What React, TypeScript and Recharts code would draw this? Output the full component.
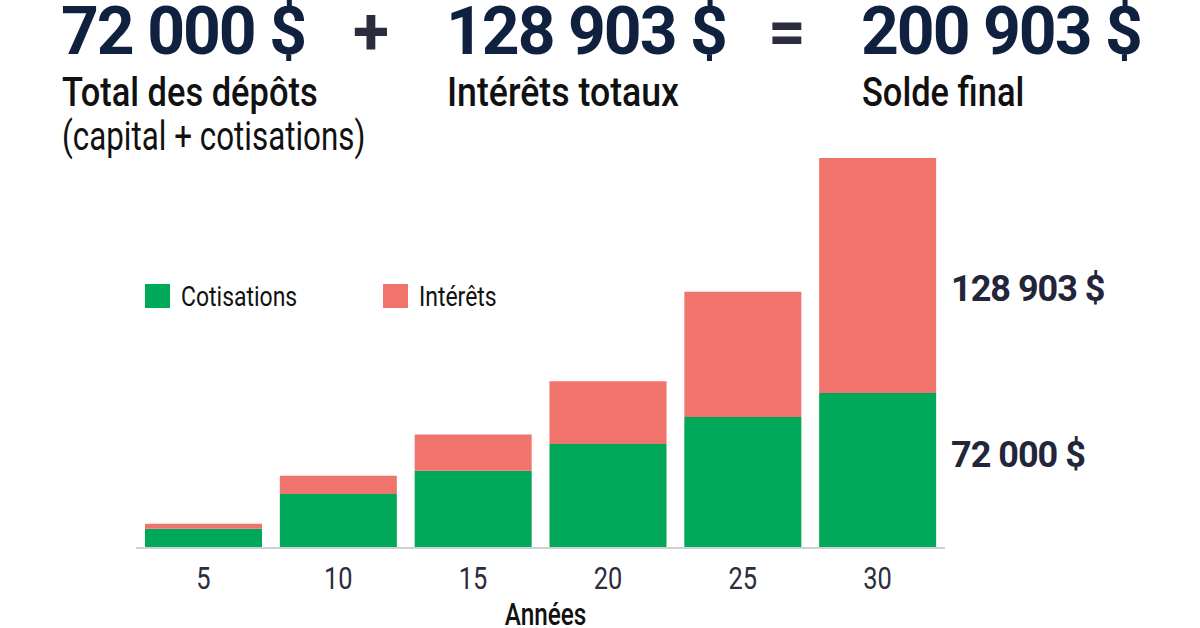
import React from "react";
import { Bar, BarChart, Label, Legend, XAxis, YAxis } from "recharts";

const YEARS = ["5", "10", "15", "20", "25", "30"];
const COTISATIONS = [9900, 27800, 39850, 53600, 67500, 79900];
const INTERETS = [2600, 9470, 18580, 32350, 64550, 121003];

const GREEN = "#00a85a";
const PINK = "#f0736c";
const NAVY = "#10203f";
const INK = "#2b2d3e";

const FONT = 'Roboto, "Noto Sans", sans-serif';

const data = YEARS.map((year, i) => ({
  year,
  cotisations: COTISATIONS[i],
  interets: INTERETS[i],
}));

const BIG = {
  position: "absolute" as const,
  top: 0,
  fontFamily: FONT,
  fontWeight: 700,
  fontSize: 66,
  lineHeight: "64px",
  letterSpacing: -2,
  color: NAVY,
  whiteSpace: "nowrap" as const,
};

const SUB = {
  position: "absolute" as const,
  top: 72,
  fontFamily: FONT,
  fontWeight: 500,
  fontSize: 41,
  lineHeight: "41px",
  color: "#111",
  whiteSpace: "nowrap" as const,
};

const SIDE = {
  position: "absolute" as const,
  left: 951,
  fontFamily: FONT,
  fontWeight: 700,
  fontSize: 36,
  lineHeight: "36px",
  letterSpacing: -1,
  color: "#23263a",
  whiteSpace: "nowrap" as const,
};

// the reference uses a condensed face; squeeze Roboto horizontally instead
function Squeeze({ scale, children }: { scale: number; children: React.ReactNode }) {
  return (
    <span
      style={{
        display: "inline-block",
        transform: `scaleX(${scale})`,
        transformOrigin: "left center",
      }}
    >
      {children}
    </span>
  );
}

function YearTick({ x, y, payload }: any) {
  return (
    <text
      transform={`translate(${x},${y}) scale(0.82,1)`}
      dy="0.71em"
      textAnchor="middle"
      fill={INK}
      fontFamily={FONT}
      fontSize={31}
    >
      {payload.value}
    </text>
  );
}

function AxisTitle({ viewBox }: any) {
  const cx = viewBox.x + viewBox.width / 2 + 5;
  const y = viewBox.y + viewBox.height + 37;
  return (
    <text
      transform={`translate(${cx},${y}) scale(0.76,1)`}
      textAnchor="middle"
      fill="#111"
      fontFamily={FONT}
      fontWeight={500}
      fontSize={32}
    >
      Années
    </text>
  );
}

function LegendContent() {
  const items = [
    { name: "Cotisations", color: GREEN },
    { name: "Intérêts", color: PINK },
  ];
  return (
    <div style={{ display: "flex" }}>
      {items.map((item) => (
        <div
          key={item.name}
          style={{ width: 238, display: "flex", alignItems: "center" }}
        >
          <span
            style={{
              width: 25,
              height: 24,
              background: item.color,
              marginRight: 11,
            }}
          />
          <span
            style={{
              fontFamily: FONT,
              fontSize: 28,
              lineHeight: "24px",
              color: "#111",
              paddingTop: 2,
            }}
          >
            <Squeeze scale={0.82}>{item.name}</Squeeze>
          </span>
        </div>
      ))}
    </div>
  );
}

export default function App() {
  return (
    <div
      style={{
        position: "absolute",
        left: 0,
        top: 0,
        width: 1200,
        height: 628,
        background: "#fff",
        overflow: "hidden",
      }}
    >
      <div style={{ ...BIG, left: 61 }}>72 000 $</div>
      <div style={{ ...BIG, left: 353, color: INK }}>+</div>
      <div style={{ ...BIG, left: 446 }}>128 903 $</div>
      <div style={{ ...BIG, left: 768, color: INK }}>=</div>
      <div style={{ ...BIG, left: 861 }}>200 903 $</div>

      <div style={{ ...SUB, left: 62 }}>
        <Squeeze scale={0.84}>Total des dépôts</Squeeze>
      </div>
      <div style={{ ...SUB, left: 62, top: 116, fontWeight: 400 }}>
        <Squeeze scale={0.765}>(capital + cotisations)</Squeeze>
      </div>
      <div style={{ ...SUB, left: 447 }}>
        <Squeeze scale={0.87}>Intérêts totaux</Squeeze>
      </div>
      <div style={{ ...SUB, left: 862 }}>
        <Squeeze scale={0.84}>Solde final</Squeeze>
      </div>

      <BarChart
        width={1200}
        height={628}
        data={data}
        margin={{ top: 158, right: 255, left: 136, bottom: 40 }}
        barSize={117}
      >
        <XAxis
          dataKey="year"
          height={40}
          tickLine={false}
          axisLine={{ stroke: "#cfd0d4", strokeWidth: 2 }}
          tickMargin={13}
          tick={<YearTick />}
        >
          <Label content={<AxisTitle />} />
        </XAxis>
        <YAxis hide width={0} domain={[0, 200903]} />
        <Legend
          layout="horizontal"
          verticalAlign="middle"
          align="center"
          wrapperStyle={{ left: 145, top: 283, width: 480 }}
          content={<LegendContent />}
        />
        <Bar
          dataKey="cotisations"
          stackId="a"
          fill={GREEN}
          isAnimationActive={false}
        />
        <Bar
          dataKey="interets"
          stackId="a"
          fill={PINK}
          isAnimationActive={false}
        />
      </BarChart>

      <div style={{ ...SIDE, top: 271 }}>128 903 $</div>
      <div style={{ ...SIDE, top: 437 }}>72 000 $</div>
    </div>
  );
}
